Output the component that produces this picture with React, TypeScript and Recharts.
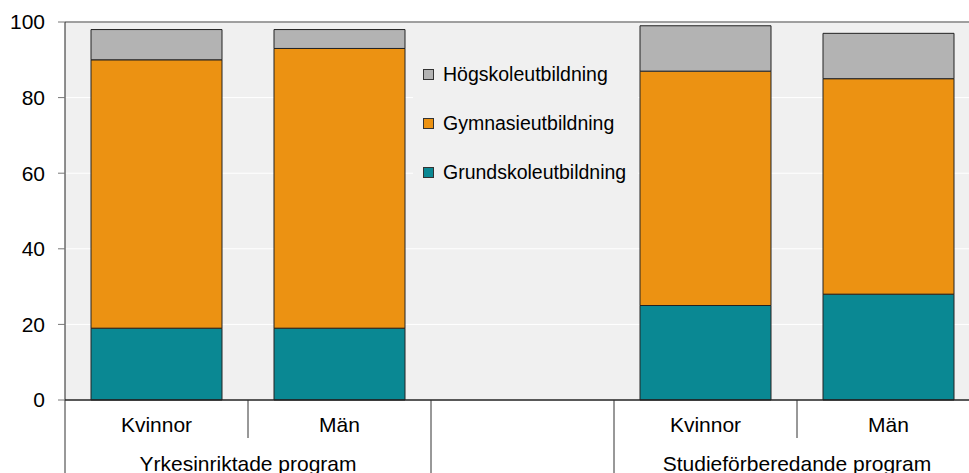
import React from 'react';
import { BarChart, Bar, XAxis, YAxis, CartesianGrid, Legend, ReferenceLine } from 'recharts';

const categories = ['Kvinnor', 'Män', '', 'Kvinnor', 'Män'];
const grundskola = [19, 19, null, 25, 28];
const gymnasium = [71, 74, null, 62, 57];
const hogskola = [8, 5, null, 12, 12];
const yTicks = [0, 20, 40, 60, 80, 100];
const groups = [
  { label: 'Yrkesinriktade program', from: 0, to: 1 },
  { label: 'Studieförberedande program', from: 3, to: 4 },
];
const seriesNames = ['Grundskoleutbildning', 'Gymnasieutbildning', 'Högskoleutbildning'];
const seriesColors = ['#0a8893', '#ec9212', '#b3b3b3'];

const data = categories.map((c, i) => ({
  name: c,
  grund: grundskola[i],
  gymn: gymnasium[i],
  hog: hogskola[i],
}));

const FONT = '"Liberation Sans", Arial, Helvetica, sans-serif';
const CHART_W = 1000;
const CHART_H = 473;
const MARGIN = { top: 22, right: 20, bottom: 13, left: 0 };
const Y_W = 65;
const X_H = 60;
const PLOT_W = CHART_W - MARGIN.left - MARGIN.right - Y_W;
const BAND = PLOT_W / categories.length;

const isGroupEdge = (idx: number) =>
  groups.some((g) => g.from === idx || g.to + 1 === idx);

const XTick = (props: any) => {
  const { x, y, payload } = props;
  const idx = payload.index;
  const left = x - BAND / 2;
  const longLen = 80;
  const shortLen = 38;
  const group = groups.find((g) => g.from === idx);
  const els: any[] = [];
  els.push(
    <line key="l" x1={left} x2={left} y1={y} y2={y + (isGroupEdge(idx) ? longLen : shortLen)} stroke="#333" strokeWidth={1} />
  );
  if (idx === categories.length - 1) {
    els.push(<line key="r" x1={left + BAND} x2={left + BAND} y1={y} y2={y + longLen} stroke="#333" strokeWidth={1} />);
  }
  els.push(
    <text key="t" x={x} y={y + 32} textAnchor="middle" fontSize={21} fontFamily={FONT} fill="#000">
      {payload.value}
    </text>
  );
  if (group) {
    const cx = left + ((group.to - group.from + 1) * BAND) / 2;
    els.push(
      <text key="g" x={cx} y={y + 71} textAnchor="middle" fontSize={21} fontFamily={FONT} fill="#000">
        {group.label}
      </text>
    );
  }
  return <g>{els}</g>;
};

const LegendContent = (props: any) => {
  const items = [...(props.payload || [])].reverse();
  return (
    <div style={{ paddingTop: 10, paddingLeft: 10, fontFamily: FONT, fontSize: 19.5, color: '#000' }}>
      {items.map((it: any) => (
        <div key={it.value} style={{ height: 49, display: 'flex', alignItems: 'center' }}>
          <span
            style={{
              width: 9,
              height: 9,
              background: it.color,
              border: '1px solid #333',
              display: 'inline-block',
              marginRight: 9,
              flexShrink: 0,
            }}
          />
          <span>{it.value}</span>
        </div>
      ))}
    </div>
  );
};

export default function App() {
  return (
    <div style={{ position: 'fixed', left: 0, top: 0, width: 969, height: 473, overflow: 'hidden', background: '#fff' }}>
      <BarChart width={CHART_W} height={CHART_H} data={data} margin={MARGIN} barCategoryGap={0}>
        <CartesianGrid vertical={false} fill="#f0f0f0" stroke="#ffffff" strokeWidth={1} />
        <XAxis
          dataKey="name"
          height={X_H}
          tick={<XTick />}
          tickLine={false}
          tickSize={0}
          tickMargin={0}
          axisLine={{ stroke: '#222', strokeWidth: 1.5 }}
          interval={0}
        />
        <YAxis
          width={Y_W}
          domain={[0, 100]}
          ticks={yTicks}
          tickSize={7}
          tickMargin={13}
          tickLine={{ stroke: '#777' }}
          axisLine={{ stroke: '#222' }}
          tick={{ fontSize: 21, fontFamily: FONT, fill: '#000' }}
        />
        <ReferenceLine y={100} stroke="#808080" strokeWidth={1.5} />
        <Legend
          layout="vertical"
          align="center"
          verticalAlign="middle"
          content={<LegendContent />}
          wrapperStyle={{ left: 413, top: 40, width: 225, height: 172, background: '#f0f0f0' }}
        />
        <Bar dataKey="grund" name={seriesNames[0]} stackId="a" fill={seriesColors[0]} stroke="#222" strokeWidth={1} barSize={131} isAnimationActive={false} />
        <Bar dataKey="gymn" name={seriesNames[1]} stackId="a" fill={seriesColors[1]} stroke="#222" strokeWidth={1} barSize={131} isAnimationActive={false} />
        <Bar dataKey="hog" name={seriesNames[2]} stackId="a" fill={seriesColors[2]} stroke="#222" strokeWidth={1} barSize={131} isAnimationActive={false} />
      </BarChart>
    </div>
  );
}
